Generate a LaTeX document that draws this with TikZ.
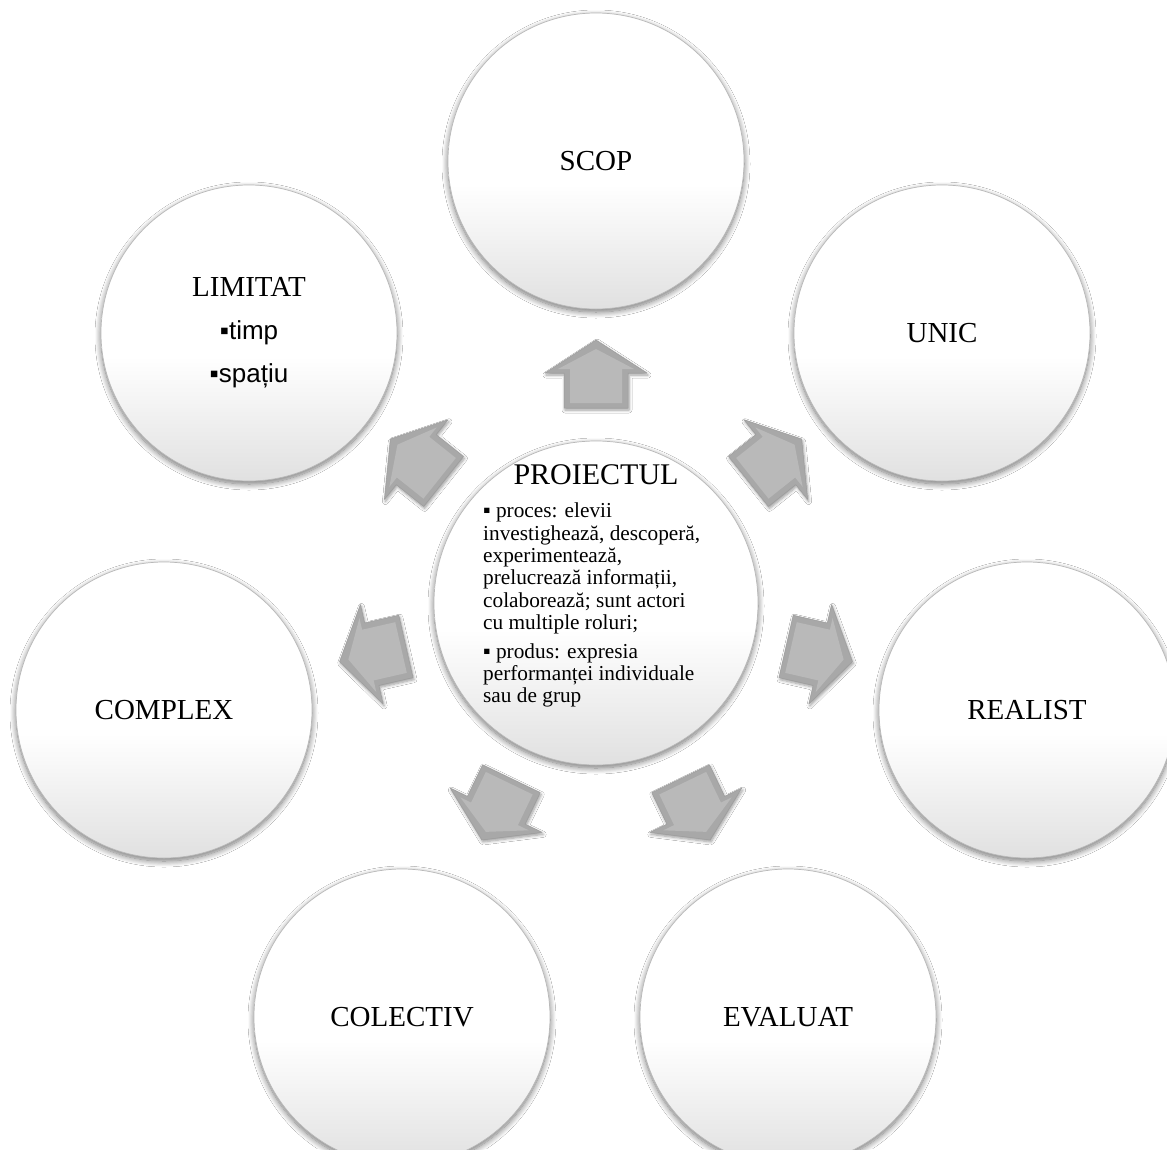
\documentclass[tikz,border=0pt]{standalone}
\usepackage{fontspec}
\setmainfont{Liberation Serif}
\setsansfont{Liberation Sans}
\usetikzlibrary{shadows.blur}

% white body that turns light grey towards the bottom of each disc
\pgfdeclareverticalshading{bubbleshade}{100bp}{%
  color(0bp)=(gray!24); color(25bp)=(gray!24); color(46bp)=(white); color(100bp)=(white)}

\begin{document}
\begin{tikzpicture}[x=1pt,y=1pt,
  bubble/.style={circle, minimum size=296pt, inner sep=0pt,
    draw=gray!55, line width=0.7pt, shading=bubbleshade,
    blur shadow={shadow xshift=0pt, shadow yshift=-3pt,
      shadow blur radius=6pt, shadow blur steps=12, shadow opacity=55},
    font=\fontsize{29}{34}\selectfont, align=center},
  hubstyle/.style={bubble, minimum size=324pt},
  arrowbody/.style={fill=gray!68, draw=gray!78, line width=0.5pt, line join=round,
    blur shadow={shadow xshift=1pt, shadow yshift=-2pt,
      shadow blur radius=3pt, shadow blur steps=6, shadow opacity=40}},
  arrowface/.style={fill=gray!55, draw=none},
]
\useasboundingbox (0,0) rectangle (1167,-1149);
\fill[white] (0,0) rectangle (1167,-1149);

% hub
\node[hubstyle] (hub) at (596,-603) {};

% outer circles around the hub
\node[bubble] (scop)     at (596,-161)  {SCOP};
\node[bubble] (unic)     at (942,-333)  {UNIC};
\node[bubble] (realist)  at (1027,-710) {REALIST};
\node[bubble] (evaluat)  at (788,-1017) {EVALUAT};
\node[bubble] (colectiv) at (402,-1017) {COLECTIV};
\node[bubble] (complex)  at (164,-710)  {COMPLEX};
\node[bubble, font=\fontsize{29}{43}\selectfont] (limitat) at (249,-333)
  {LIMITAT\\{\sffamily\fontsize{26}{43}\selectfont ▪timp}\\{\sffamily\fontsize{26}{43}\selectfont ▪spațiu}};

% block arrows pointing from the hub to each circle
\foreach \a in {90,38.57,-12.86,-64.29,-115.71,-167.14,141.43}{
  \draw[arrowbody, shift={(hub.center)}, rotate=\a]
    (195,-32) -- (230,-32) -- (230,-51) -- (263,0) -- (230,51) -- (230,32) -- (195,32) -- cycle;
  \fill[arrowface, shift={(hub.center)}, rotate=\a]
    (200,-26) -- (234,-26) -- (234,-38) -- (254,0) -- (234,38) -- (234,26) -- (200,26) -- cycle;
}

% hub text
\node[anchor=base, font=\fontsize{30}{34}\selectfont, inner sep=0pt] (title) at (596,-484) {PROIECTUL};
\node[anchor=north west, align=left, inner sep=0pt, font=\fontsize{21.3}{22.3}\selectfont] (body) at (483,-503)
  {▪ proces: elevii\\
   investighează, descoperă,\\
   experimentează,\\
   prelucrează informații,\\
   colaborează; sunt actori\\
   cu multiple roluri;\\[6.6pt]
   ▪ produs: expresia\\
   performanței individuale\\
   sau de grup};
\end{tikzpicture}
\end{document}
